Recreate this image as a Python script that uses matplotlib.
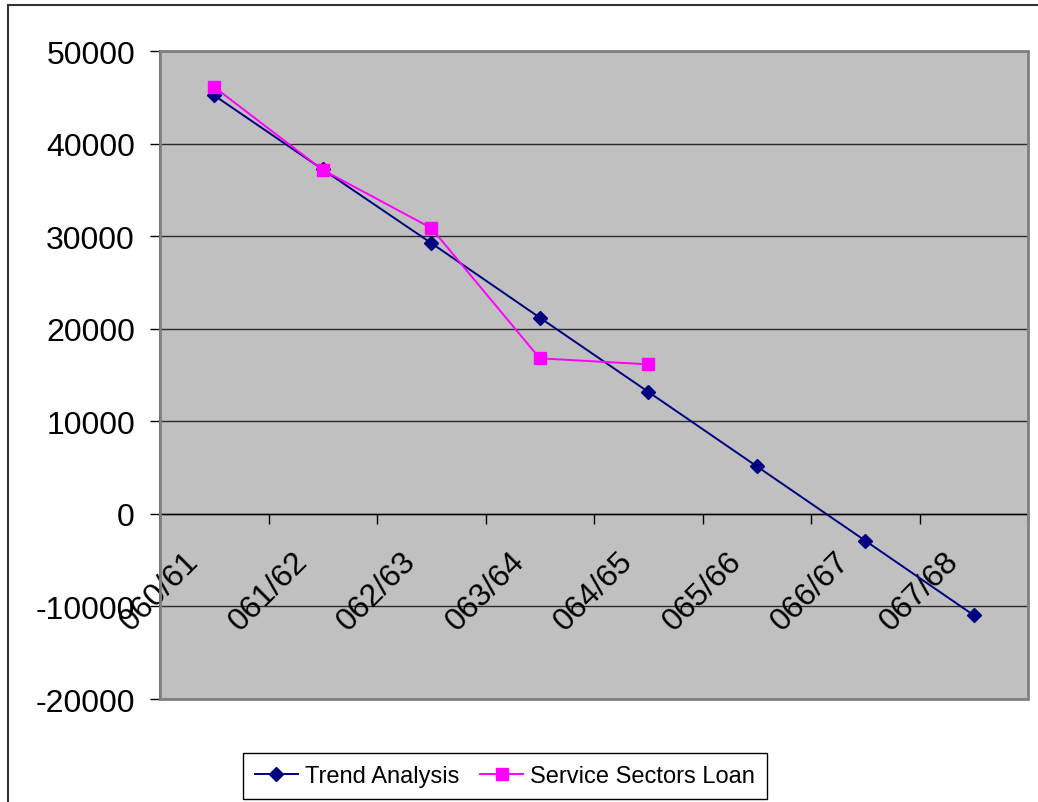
import matplotlib
matplotlib.use("Agg")
import matplotlib.pyplot as plt
from matplotlib.patches import Rectangle
from matplotlib.lines import Line2D

plt.rcParams['font.family'] = ['Liberation Sans', 'DejaVu Sans']
plt.rcParams['axes.unicode_minus'] = False

years = ["060/61", "061/62", "062/63", "063/64", "064/65", "065/66", "066/67", "067/68"]
trend = [45200, 37200, 29250, 21200, 13180, 5140, -2900, -10950]
service_loan = [46100, 37150, 30880, 16800, 16150]

fig = plt.figure(figsize=(10.38, 8.03), dpi=100)
ax = fig.add_axes([160 / 1038, 1 - 700 / 803, (1028 - 160) / 1038, (700 - 52) / 803])
ax.set_facecolor("#c0c0c0")

xs = list(range(len(years)))
ax.set_xlim(-0.5, len(years) - 0.5)
ax.set_ylim(-20000, 50000)

# horizontal gridlines
ax.set_yticks(range(-20000, 50001, 10000))
ax.yaxis.grid(True, color="#2a2a2a", linewidth=1.0)
ax.set_axisbelow(True)
ax.tick_params(axis="y", length=7, width=1, pad=11, labelsize=23, direction="out")

# category axis runs along zero with ticks between categories
ax.spines["bottom"].set_position(("data", 0))
ax.spines["bottom"].set_color("black")
ax.spines["bottom"].set_linewidth(1.0)
ax.set_xticks([i - 0.5 for i in range(len(years) + 1)])
ax.set_xticklabels([])
ax.tick_params(axis="x", length=7, width=1, direction="out", color="black")
for i, lab in enumerate(years):
    ax.text(i - 0.5, 0.167, lab, transform=ax.get_xaxis_transform(),
            rotation=45, ha="center", va="center", fontsize=23)

ax.spines["left"].set_color("black")
ax.spines["left"].set_linewidth(1.2)
for s in ["top", "right"]:
    ax.spines[s].set_visible(False)
ax.add_patch(Rectangle((0, 0), 1, 1, transform=ax.transAxes, fill=False,
                       edgecolor="#808080", linewidth=2, zorder=5, clip_on=False))

ax.plot(xs, trend, color="#000080", marker="D", markersize=7, linewidth=1.4,
        label="Trend Analysis", zorder=3)
ax.plot(xs[:len(service_loan)], service_loan, color="#ff00ff", marker="s",
        markersize=8.5, linewidth=1.4, label="Service Sectors Loan", zorder=4)

leg = fig.legend(loc="lower center", bbox_to_anchor=(505 / 1038, 3 / 803), ncol=2,
                 fontsize=17, frameon=True, fancybox=False, edgecolor="black",
                 framealpha=1, handlelength=1.8, handletextpad=0.3,
                 columnspacing=0.9, borderpad=0.5, borderaxespad=0)
leg.get_frame().set_linewidth(1)

# outer chart border (left and top edges)
fig.add_artist(Line2D([8 / 1038, 8 / 1038], [0, 1 - 6 / 803], color="#333333", linewidth=1.5))
fig.add_artist(Line2D([8 / 1038, 1], [1 - 6 / 803, 1 - 6 / 803], color="#333333", linewidth=1.5))

fig.savefig("out.png", dpi=100)
